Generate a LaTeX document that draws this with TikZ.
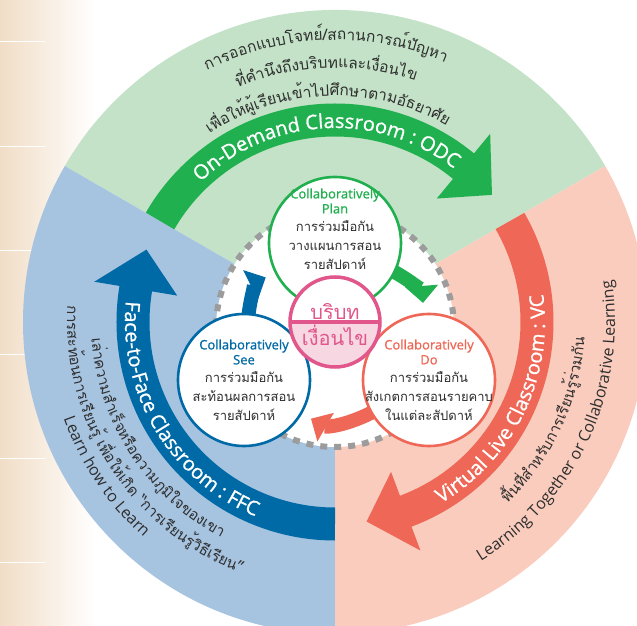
\documentclass[tikz,border=0pt]{standalone}
\usepackage{fontspec}
\setmainfont{Open Sans}
\newfontfamily\semifont[FakeBold=1]{Open Sans}
\newfontfamily\thaifont[Script=Thai]{Loma}
\usetikzlibrary{positioning, arrows.meta, shapes.multipart, decorations.text}

\definecolor{lgreen}{HTML}{C3E2C7}
\definecolor{lblue}{HTML}{A6C3E0}
\definecolor{lpink}{HTML}{F9CCBD}
\definecolor{dgreen}{HTML}{21B04F}
\definecolor{dblue}{HTML}{006AA6}
\definecolor{dred}{HTML}{EF6857}
\definecolor{cpink}{HTML}{E1568B}
\definecolor{cfill}{HTML}{F6D7E2}
\definecolor{dots}{HTML}{9C9C9C}
\definecolor{ink}{HTML}{2E2E2E}
\definecolor{beige}{HTML}{F1DDC6}

\pgfdeclarelayer{back}
\pgfdeclarelayer{mid}
\pgfsetlayers{back,mid,main}

% text bent along a circle round the middle: radius, from, to, format, text
\newcommand{\arctext}[5]{%
  \path[decorate, decoration={text along path, text align=center,
      text={|#4|#5}}]
    (#2:#1) arc[start angle=#2, end angle=#3, radius=#1];}

% thick arc arrow of one classroom: colour, start angle
\newcommand{\bigband}[2]{%
  \draw[line width=33pt, #1] (#2:202) arc[start angle=#2, end angle={#2-100}, radius=202];
  \fill[#1] ({#2-99.5}:160) -- ({#2-99.5}:244) -- ({#2-111}:202) -- cycle;}

\newcommand{\thaitxt}[1]{{\thaifont\fontsize{13}{15}\selectfont\color{ink}#1}}

\begin{document}
\begin{tikzpicture}[x=1pt, y=1pt,
    stage/.style={circle, draw, line width=2.6pt, fill=white, minimum size=132pt, inner sep=0pt},
    stagetext/.style={align=center, font=\semifont\fontsize{13}{15}\selectfont},
    cyc/.style={line width=14pt, -{Triangle[width=32pt, length=17pt]}, shorten <=-15pt, shorten >=10pt}
]
\useasboundingbox (-335,-304) rectangle (302,322);

\begin{pgfonlayer}{back}
\clip (-335,-304) rectangle (302,322);
% --- page background ---
\shade[left color=beige, right color=white] (-335,-304) rectangle (-240,322);
\foreach \y in {281,176,72,-32,-136,-240}
  \draw[white, line width=0.8pt] (-335,\y) -- (-290,\y);

% --- three sectors ---
\fill[lgreen] (0,0) -- (150:312) arc[start angle=150, end angle=30, radius=312] -- cycle;
\fill[lpink] (0,0) -- (30:312) arc[start angle=30, end angle=-90, radius=312] -- cycle;
\fill[lblue] (0,0) -- (-90:312) arc[start angle=-90, end angle=-210, radius=312] -- cycle;

% --- classroom arcs ---
\bigband{dgreen}{150}
\bigband{dred}{30}
\bigband{dblue}{-90}

\arctext{194}{153}{33}{\semifont\fontsize{20}{22}\selectfont\color{white}}{On-Demand Classroom : ODC}
\arctext{210}{-86}{34}{\semifont\fontsize{20}{22}\selectfont\color{white}}{Virtual Live Classroom : VC}
\arctext{210}{151}{271}{\semifont\fontsize{20}{22}\selectfont\color{white}}{Face-to-Face Classroom : FFC}

% on-demand
\arctext{282}{152}{32}{\thaifont\fontsize{15.5}{18}\selectfont\color{ink}}{การออกแบบโจทย์/สถานการณ์ปัญหา}
\arctext{254}{152}{32}{\thaifont\fontsize{15.5}{18}\selectfont\color{ink}}{ที่คำนึงถึงบริบทและเงื่อนไข}
\arctext{226}{152}{32}{\thaifont\fontsize{15.5}{18}\selectfont\color{ink}}{เพื่อให้ผู้เรียนเข้าไปศึกษาตามอัธยาศัย}
% face-to-face
\arctext{244}{153}{273}{\thaifont\fontsize{15}{18}\selectfont\color{ink}}{เล่าความสำเร็จหรือความภูมิใจของเขา}
\arctext{268}{153}{273}{\thaifont\fontsize{15}{18}\selectfont\color{ink}}{การสะท้อนการเรียนรู้ เพื่อให้เกิด “การเรียนรู้วิธีเรียน”}
\arctext{288}{154}{274}{\fontsize{16}{18}\selectfont\color{ink}}{Learn how to Learn}
% virtual live
\arctext{250}{-85}{35}{\thaifont\fontsize{15}{18}\selectfont\color{ink}}{พื้นที่สำหรับการเรียนรู้ร่วมกัน}
\arctext{280}{-85}{35}{\fontsize{16}{18}\selectfont\color{ink}}{Learning Together or Collaborative Learning}

% --- dotted inner disc ---
\draw[dots, line width=6pt, dash pattern=on 7pt off 7pt, fill=white] (0,-6) circle[radius=119];
\end{pgfonlayer}

% --- the three stages ---
\node[stage, draw=dgreen] (plan) at (0,79) {};
\node[stage, draw=dblue] (see) at (-91,-58) {};
\node[stage, draw=dred] (do) at (94,-58) {};

\node[stagetext, text=dgreen] (plantxt) at ([yshift=14pt]plan.center)
  {Collaboratively\\Plan\\[3pt]\thaitxt{การร่วมมือกัน}\\[4pt]\thaitxt{วางแผนการสอน}\\[4pt]\thaitxt{รายสัปดาห์}};
\node[stagetext, text=dblue] (seetxt) at (see.center)
  {Collaboratively\\See\\[3pt]\thaitxt{การร่วมมือกัน}\\[4pt]\thaitxt{สะท้อนผลการสอน}\\[4pt]\thaitxt{รายสัปดาห์}};
\node[stagetext, text=dred] (dotxt) at (do.center)
  {Collaboratively\\Do\\[3pt]\thaitxt{การร่วมมือกัน}\\[4pt]\thaitxt{สังเกตการสอนรายคาบ}\\[4pt]\thaitxt{ในแต่ละสัปดาห์}};

% context / conditions in the middle
\node[circle split, draw=cpink, line width=3.5pt, minimum size=90pt, inner sep=1pt,
      fill=white, path picture={\fill[cfill] (path picture bounding box.west)
        rectangle (path picture bounding box.south east);},
      text=cpink, font=\thaifont\fontsize{20}{22}\selectfont] (ctx) at (0,0)
  {บริบท \nodepart{lower} เงื่อนไข};

% --- cycle arrows between the stages ---
\begin{pgfonlayer}{mid}
\draw[cyc, dgreen] (plan) to[bend left=30] (do);
\draw[cyc, dred] (do) to[bend left=30] (see);
\draw[cyc, dblue] (see) to[bend left=30] (plan);
\end{pgfonlayer}

\end{tikzpicture}
\end{document}
